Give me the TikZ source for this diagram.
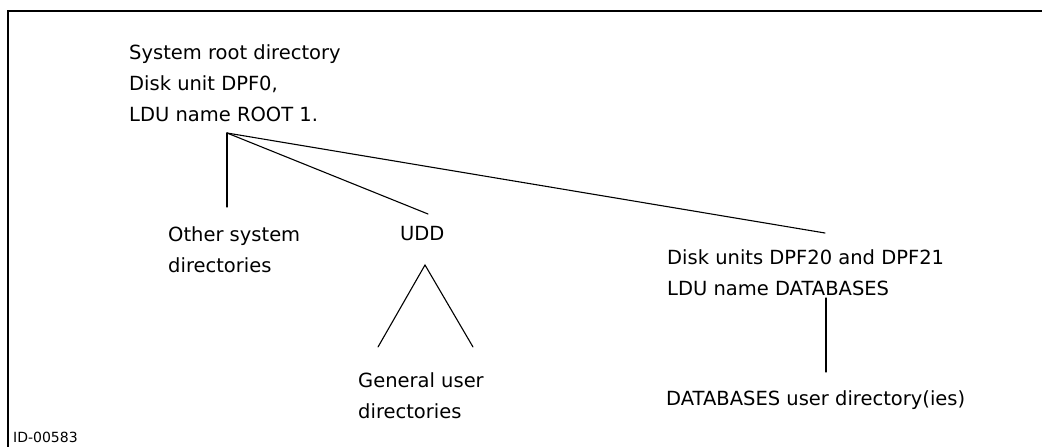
\documentclass[tikz,border=0pt]{standalone}
\usepackage{fontspec}
\setmainfont{DejaVu Sans}
\begin{document}
\begin{tikzpicture}[x=1pt,y=-1pt,
  lbl/.style={font=\fontsize{19.5}{31}\selectfont, inner sep=0pt, align=left, anchor=north west},
  conn/.style={line width=1.1pt, line cap=round},
  frame/.style={line width=1.4pt}]
\useasboundingbox (0,0) rectangle (1044,447);
% frame
\coordinate (ftl) at (8,11);
\coordinate (ftr) at (1042,11);
\coordinate (fbl) at (8,447);
\draw[frame] (fbl) -- (ftl) -- (ftr);
% texts
\node[lbl] (root) at (129,44) {System root directory\\Disk unit DPF0,\\LDU name ROOT 1.};
\node[lbl] (other) at (168,226) {Other system\\directories};
\node[lbl] (udd) at (400,226) {UDD};
\node[lbl] (disk) at (667,249) {Disk units DPF20 and DPF21\\LDU name DATABASES};
\node[lbl] (gen) at (358,372) {General user\\directories};
\node[lbl] (dbu) at (666,390) {DATABASES user directory(ies)};
\node[font=\fontsize{14}{16}\selectfont, inner sep=0pt, anchor=north west] (id) at (13,432) {ID-00583};
% connector points
\coordinate (apex) at (227,133);
\coordinate (othtop) at (227,207);
\coordinate (uddtop) at (428,214);
\coordinate (disktop) at (825,233);
\coordinate (tapex) at (425,265);
\coordinate (tleft) at (378,347);
\coordinate (tright) at (473,347);
\coordinate (dbtop) at (826,298);
\coordinate (dbbot) at (826,372);
% connectors
\draw[conn] (apex) -- (othtop);
\draw[conn] (apex) -- (uddtop);
\draw[conn] (apex) -- (disktop);
\draw[conn] (tleft) -- (tapex) -- (tright);
\draw[conn] (dbtop) -- (dbbot);
\end{tikzpicture}
\end{document}
